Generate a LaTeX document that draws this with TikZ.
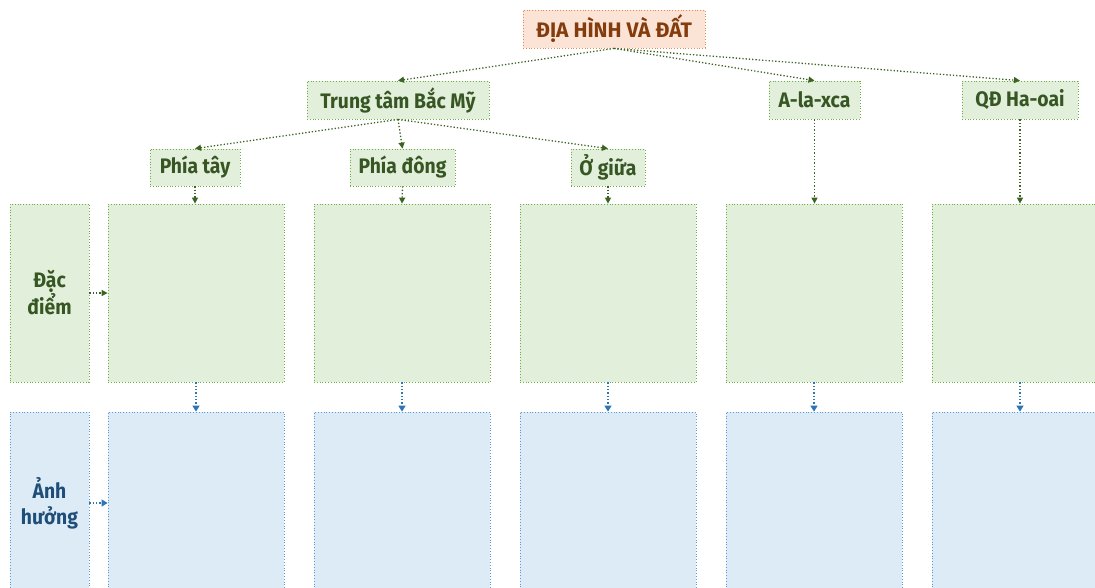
\documentclass[tikz,border=0pt]{standalone}
\usepackage{fontspec}
\setmainfont{Fira Sans}
\newfontfamily\condfont{Fira Sans}[FakeStretch=0.92]
\usetikzlibrary{arrows.meta}
\definecolor{gfill}{HTML}{E2EFDA}
\definecolor{gline}{HTML}{70AD47}
\definecolor{gtext}{HTML}{375623}
\definecolor{garrow}{HTML}{3B6324}
\definecolor{bfill}{HTML}{DDEBF7}
\definecolor{bline}{HTML}{5B9BD5}
\definecolor{btext}{HTML}{1F4E79}
\definecolor{barrow}{HTML}{2E75B6}
\definecolor{ofill}{HTML}{FBE3D6}
\definecolor{oline}{HTML}{E08A5A}
\definecolor{otext}{HTML}{843C0C}
\tikzset{
  gbox/.style={draw=gline, fill=gfill, dotted, line width=0.8pt, inner sep=0pt, align=center,
    text=gtext, font=\condfont\bfseries\fontsize{21}{26}\selectfont},
  bbox/.style={draw=bline, fill=bfill, dotted, line width=0.8pt, inner sep=0pt, align=center,
    text=btext, font=\condfont\bfseries\fontsize{21}{26}\selectfont},
  obox/.style={draw=oline, fill=ofill, dotted, line width=0.8pt, inner sep=0pt, align=center,
    text=otext, font=\bfseries\fontsize{21}{25}\selectfont},
  garr/.style={draw=garrow, dotted, line width=1.3pt, -{Triangle[length=6pt,width=6pt]}},
  barr/.style={draw=barrow, dotted, line width=1.3pt, -{Triangle[length=6pt,width=7pt]}},
}
\begin{document}
\begin{tikzpicture}[x=1pt,y=-1pt]
\useasboundingbox (0,0) rectangle (1095,587);
\clip (0,0) rectangle (1095,587);
\node[obox, minimum width=182pt, minimum height=38pt] (title) at (614,29) {ĐỊA HÌNH VÀ ĐẤT};
\node[gbox, minimum width=182pt, minimum height=38pt] (tt) at (398,100) {Trung tâm Bắc Mỹ};
\node[gbox, minimum width=91pt, minimum height=38pt] (ala) at (814.5,100) {A-la-xca};
\node[gbox, minimum width=116pt, minimum height=38pt] (qd) at (1020,100) {QĐ Ha-oai};
\node[gbox, minimum width=90pt, minimum height=37pt] (ptay) at (195,167.5) {Phía tây};
\node[gbox, minimum width=105pt, minimum height=37pt] (pdong) at (402.5,167.5) {Phía đông};
\node[gbox, minimum width=74pt, minimum height=37pt] (giua) at (608,167.5) {Ở giữa};
\node[gbox, minimum width=79pt, minimum height=178pt] (dd) at (49.5,293) {Đặc\\điểm};
\node[bbox, minimum width=79pt, minimum height=182pt] (ah) at (49.5,503) {Ảnh\\hưởng};
\foreach \i/\x in {1/196,2/402,3/608,4/814,5/1020}{
  \node[gbox, minimum width=176pt, minimum height=178pt] (g\i) at (\x,293) {};
  \node[bbox, minimum width=176pt, minimum height=182pt] (b\i) at (\x,503) {};
  \draw[barr] (g\i.south) -- (b\i.north);
}
\draw[garr] (title.south) -- (tt.north);
\draw[garr] (title.south) -- (ala.north);
\draw[garr] (title.south) -- (qd.north);
\draw[garr] (tt.south) -- (ptay.north);
\draw[garr] (tt.south) -- (pdong.north);
\draw[garr] (tt.south) -- (giua.north);
\draw[garr] (ptay.south) -- (ptay.south |- g1.north);
\draw[garr] (pdong.south) -- (g2.north);
\draw[garr] (giua.south) -- (g3.north);
\draw[garr] (ala.south) -- (ala.south |- g4.north);
\draw[garr] (qd.south) -- (g5.north);
\draw[garr] (dd.east) -- (g1.west |- dd.east);
\draw[barr] (ah.east) -- (b1.west |- ah.east);
\end{tikzpicture}
\end{document}
